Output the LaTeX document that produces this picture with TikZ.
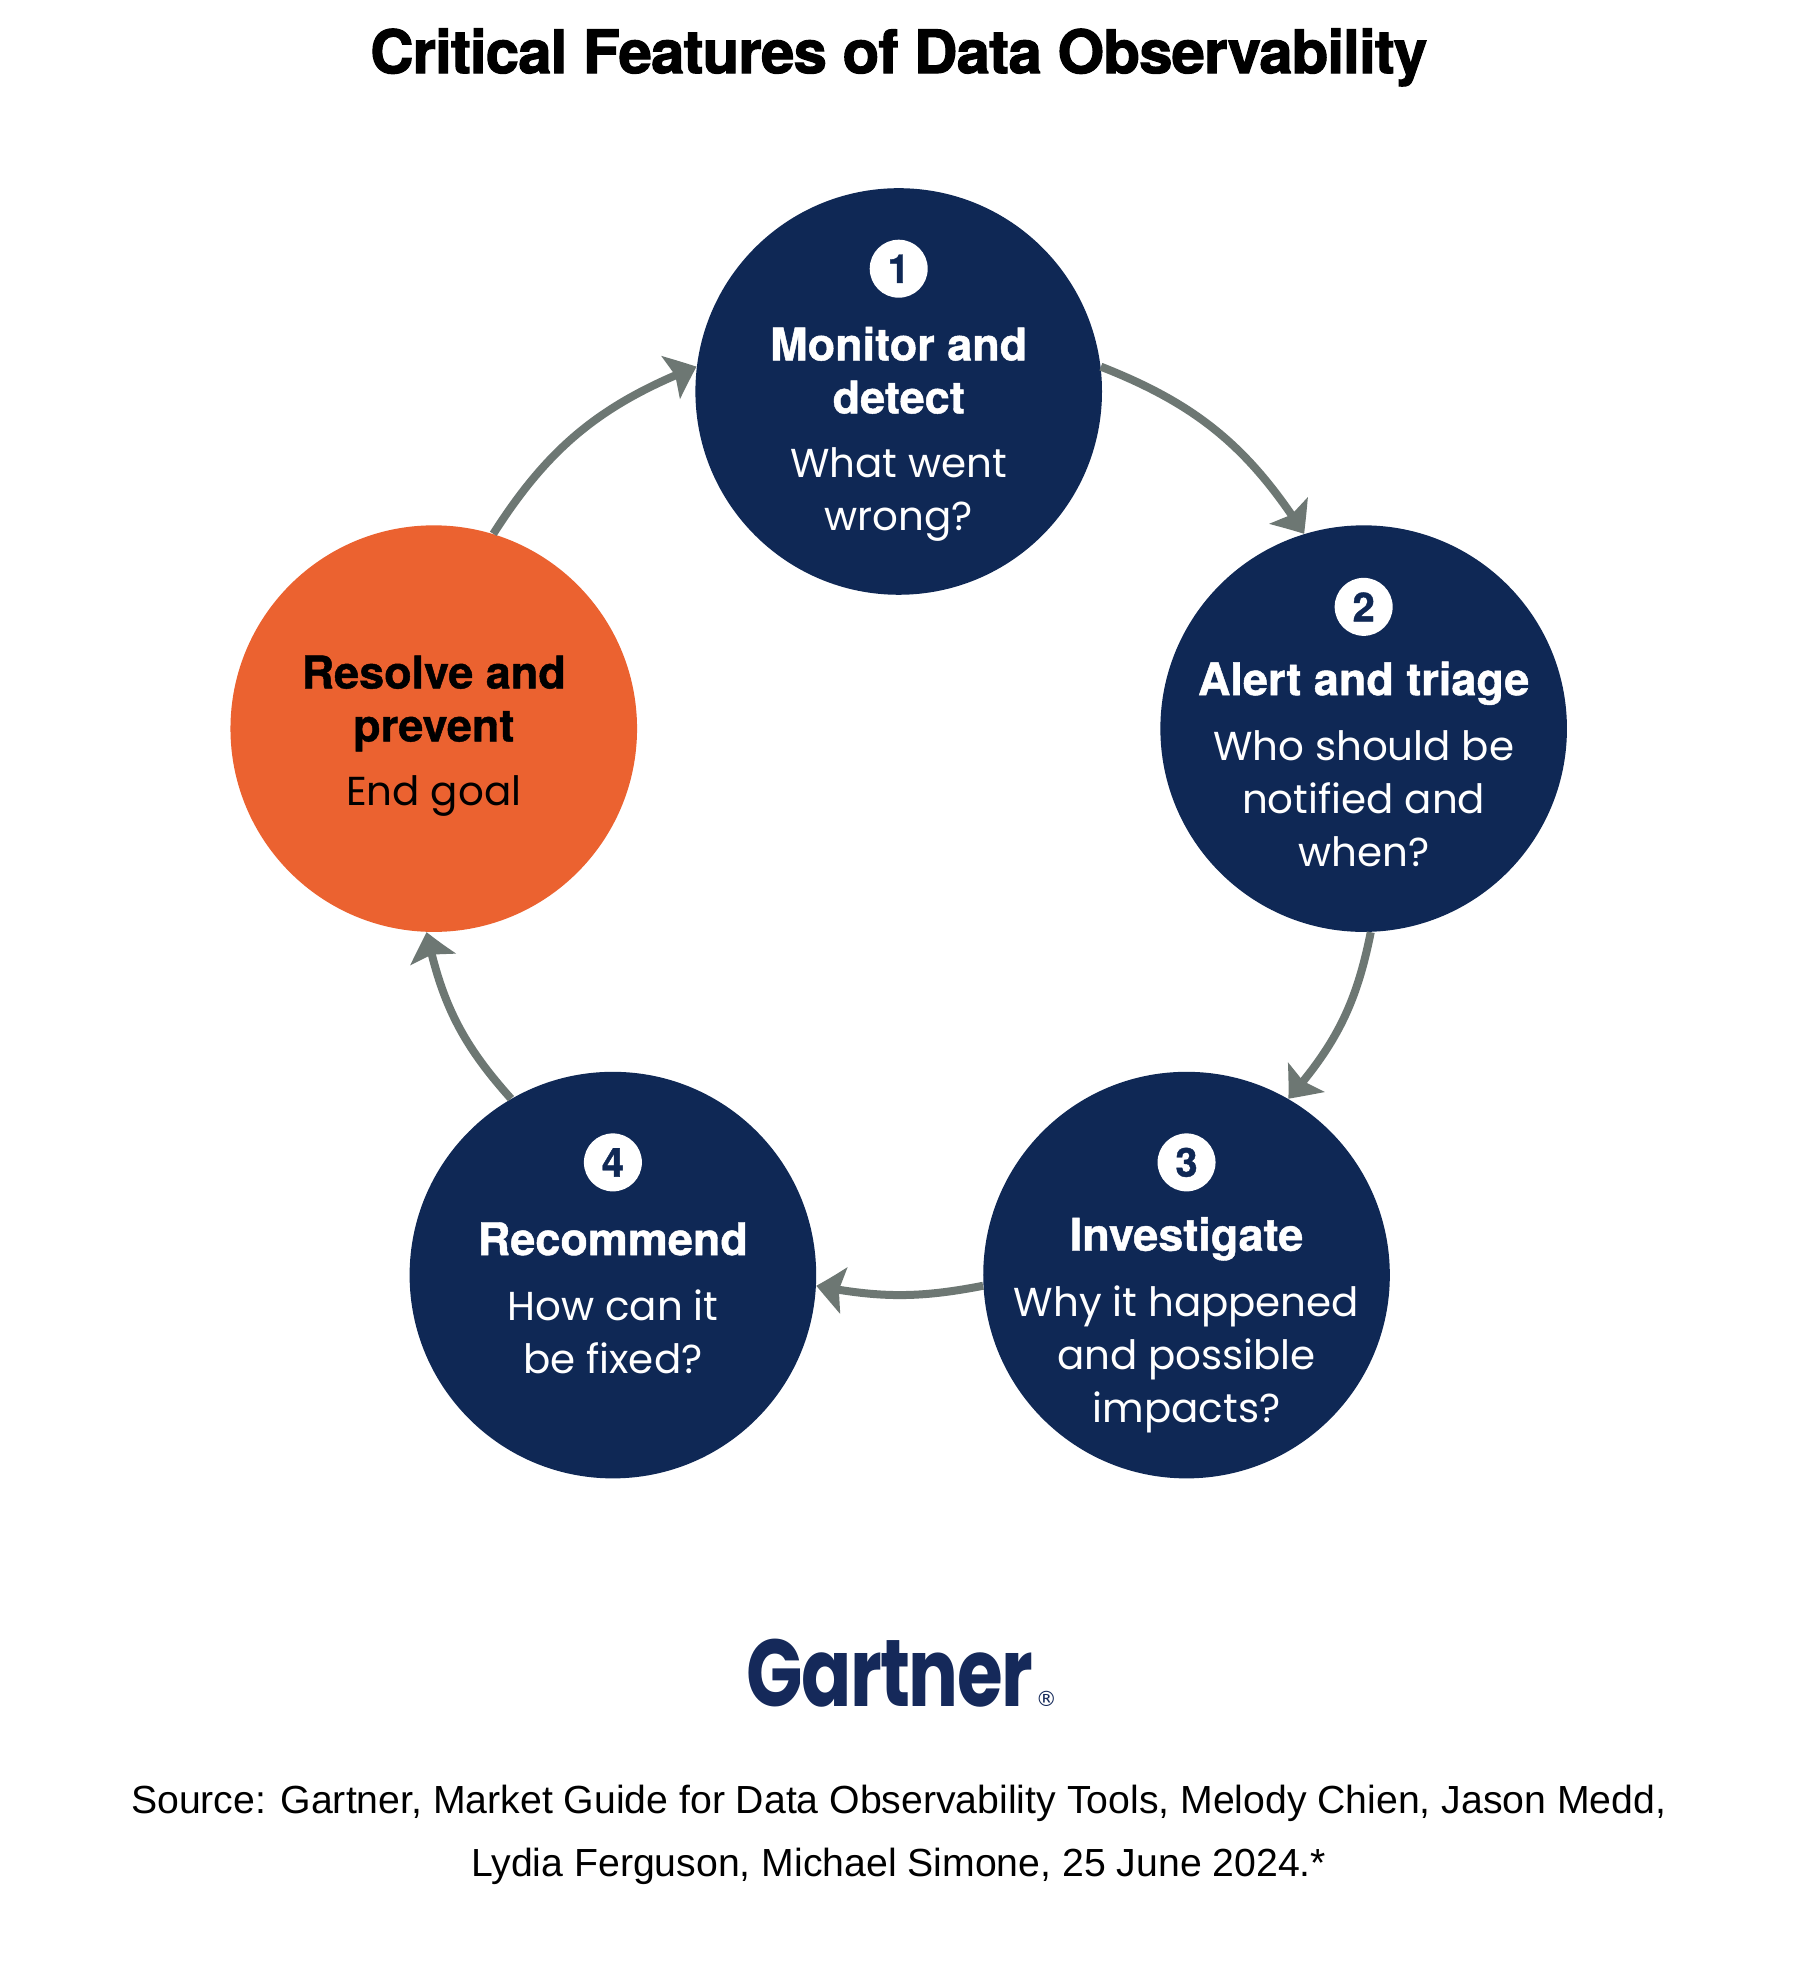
\documentclass[tikz,border=0pt]{standalone}
\usepackage{fontspec}
\setmainfont{Poppins}
\newfontfamily\srcfont{Liberation Sans}
\newfontfamily\headfont{TeX Gyre Heros}[FakeBold=1.0]
\newfontfamily\titlefont{TeX Gyre Heros}[FakeBold=1.8, LetterSpace=-1.5]
\newfontfamily\logofont{Poppins}[LetterSpace=-2.0]
\newfontfamily\regfont{DejaVu Sans}
\usetikzlibrary{arrows.meta,bending}
\definecolor{navy}{HTML}{0F2855}
\definecolor{orng}{HTML}{EB6230}
\definecolor{arrowgray}{HTML}{6D7773}
\definecolor{logonavy}{HTML}{15295A}
\tikzset{
  stage/.style={circle, fill=navy, minimum size=203.3pt, inner sep=0pt},
  goal/.style={circle, fill=orng, minimum size=203.3pt, inner sep=0pt},
  badge/.style={circle, fill=white, minimum size=29pt, inner sep=0pt, text=navy,
    font=\headfont\bfseries\fontsize{20}{20}\selectfont},
  head/.style={text=white, align=center, inner sep=0pt,
    font=\headfont\bfseries\fontsize{22.5}{26.5}\selectfont},
  body/.style={text=white, align=center, inner sep=0pt,
    font=\fontsize{20.2}{26.5}\selectfont},
  arr/.style={draw=arrowgray, line width=4pt,
    -{Stealth[length=14pt,width=23pt,inset=2.5pt,bend]}},
}
\begin{document}
\begin{tikzpicture}[x=0.5032pt,y=-0.5032pt]
\useasboundingbox (0,0) rectangle (1788.6,1957.5);
\fill[white] (0,0) rectangle (1788.6,1957.5);

% title
\node[inner sep=0pt, font=\titlefont\bfseries\fontsize{30}{30}\selectfont] (title) at (893,57) {Critical Features of Data Observability};

% circles
\node[stage] (c1) at (893,389) {};
\node[stage] (c2) at (1355,724) {};
\node[stage] (c3) at (1179,1267) {};
\node[stage] (c4) at (609,1267) {};
\node[goal]  (c5) at (431,724) {};

% circle 1
\node[badge] (n1) at (893,267) {1};
\node[head] (h1) at (893,368) {Monitor and\\detect};
\node[body] (b1) at (893,491) {What went\\wrong?};
% circle 2
\node[badge] (n2) at (1355,603) {2};
\node[head] (h2) at (1355,679) {Alert and triage};
\node[body] (b2) at (1355,794) {Who should be\\notified and\\when?};
% circle 3
\node[badge] (n3) at (1179,1155) {3};
\node[head] (h3) at (1179,1231) {Investigate};
\node[body] (b3) at (1179,1351) {Why it happened\\and possible\\impacts?};
% circle 4
\node[badge] (n4) at (609,1155) {4};
\node[head] (h4) at (609,1231) {Recommend};
\node[body] (b4) at (609,1323) {How can it\\be fixed?};
% circle 5
\node[head, text=black] (h5) at (431,699) {Resolve and\\prevent};
\node[body, text=black] (b5) at (431,791) {End goal};

% arrows
\draw[arr] (c1.7) to[bend left=18] (c2.107);
\draw[arr] (c2.272) to[bend left=15] (c3.60);
\draw[arr] (c3.183) to[bend left=11] (c4.357);
\draw[arr] (c4.120) to[bend left=15] (c5.268);
\draw[arr] (c5.73) to[bend left=18] (c1.173);

% logo
\node[inner sep=0pt, text=logonavy, font=\logofont\bfseries\fontsize{47.5}{47.5}\selectfont] (logo) at (884,1663) {\scalebox{0.78}[1]{Gartner}};
\node[inner sep=0pt, text=logonavy, font=\regfont\fontsize{10.5}{10.5}\selectfont, anchor=base west] (reg) at ([xshift=1pt]logo.base east) {®};

% source
\node[inner sep=0pt, align=center, font=\srcfont\fontsize{19.6}{31.5}\selectfont] (src) at (893,1823.5)
  {Source: Gartner, Market Guide for Data Observability Tools, Melody Chien, Jason Medd,\\Lydia Ferguson, Michael Simone, 25 June 2024.*};
\end{tikzpicture}
\end{document}
